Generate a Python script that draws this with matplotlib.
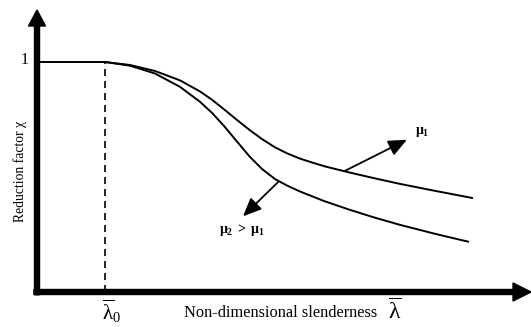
import matplotlib
matplotlib.use("Agg")
import matplotlib.pyplot as plt

plt.rcParams['mathtext.fontset'] = 'custom'
plt.rcParams['mathtext.rm'] = 'Liberation Serif'
plt.rcParams['mathtext.it'] = 'Liberation Serif:italic'
plt.rcParams['mathtext.bf'] = 'Liberation Serif:bold'
plt.rcParams['font.family'] = ['Liberation Serif', 'DejaVu Serif']

# ---- data ----
lambda0 = 0.2
plateau_x = [0.0, 0.2]
plateau_y = [1.0, 1.0]

mu1_x = [0.2, 0.2735, 0.347, 0.4206, 0.4794, 0.5147, 0.5529, 0.5882, 0.6265,
         0.6618, 0.700, 0.7353, 0.7735, 0.8088, 0.8471, 0.9206, 0.9941,
         1.0676, 1.1735, 1.2794]
mu1_y = [1.0, 0.987, 0.961, 0.920, 0.872, 0.836, 0.791, 0.748, 0.703,
         0.665, 0.629, 0.603, 0.580, 0.563, 0.546, 0.519, 0.494,
         0.470, 0.439, 0.409]

mu2_x = [0.2, 0.2735, 0.347, 0.4206, 0.4794, 0.5147, 0.5529, 0.5882, 0.6265,
         0.6618, 0.700, 0.7353, 0.7735, 0.8471, 0.9206, 0.9941, 1.0676,
         1.1706, 1.2676]
mu2_y = [1.0, 0.984, 0.950, 0.892, 0.827, 0.779, 0.717, 0.654, 0.587,
         0.535, 0.491, 0.463, 0.437, 0.394, 0.357, 0.323, 0.292,
         0.253, 0.219]

arrow_mu1 = [(0.906, 0.527), (1.088, 0.662)]   # tail, tip
arrow_mu2 = [(0.709, 0.478), (0.606, 0.329)]

ytick_vals = [1.0]
ytick_labels = ['1']

# ---- figure ----
fig = plt.figure(figsize=(5.31, 3.27), dpi=100)
ax = fig.add_axes([0, 0, 1, 1])
ax.set_xlim(-37 / 340, 494 / 340)
ax.set_ylim(-35 / 230, 292 / 230)
ax.axis('off')

# axes with arrows
ax.arrow(0, -0.012, 0, 1.238, width=5 / 340, head_width=17 / 340,
         head_length=16 / 230, length_includes_head=True, color='black',
         clip_on=False)
ax.arrow(-0.009, 0, 1.462, 0, width=5 / 230, head_width=18 / 230,
         head_length=18 / 340, length_includes_head=True, color='black',
         clip_on=False)

# plateau and curves
ax.plot(plateau_x, plateau_y, color='black', lw=1.4, solid_capstyle='butt')
ax.plot(mu1_x, mu1_y, color='black', lw=1.4)
ax.plot(mu2_x, mu2_y, color='black', lw=1.4)

# dashed line at lambda0
ax.plot([lambda0, lambda0], [0, 1.0], color='black', lw=1.2,
        linestyle=(0, (4.2, 3.0)))

# arrows to curves
for (tail, tip) in (arrow_mu1, arrow_mu2):
    ax.annotate('', xy=tip, xytext=tail,
                arrowprops=dict(arrowstyle='-|>,head_length=0.8,head_width=0.35',
                                mutation_scale=14, lw=1.3, color='black',
                                shrinkA=0, shrinkB=0))

# labels
for v, t in zip(ytick_vals, ytick_labels):
    ax.text(-0.026, v + 0.008, t, ha='right', va='center', fontsize=11.5)

ax.text(-0.05, 0.524, 'Reduction factor χ', rotation=90, ha='center',
        va='center', fontsize=9.8)
ax.text(0.718, -0.092, 'Non-dimensional slenderness', ha='center',
        va='center', fontsize=11.8)
ax.text(1.053, -0.085, r'$\overline{\mathrm{\lambda}}$', ha='center',
        va='center', fontsize=17)
ax.text(0.218, -0.085, r'$\overline{\mathrm{\lambda}}_{0}$', ha='center',
        va='center', fontsize=15)
ax.text(1.132, 0.697, r'$\mathbf{\mu}_{\mathbf{1}}$', ha='center',
        va='center', fontsize=10)
ax.text(0.603, 0.268, r'$\mathbf{\mu}_{\mathbf{2}}\ \mathbf{>}\ \mathbf{\mu}_{\mathbf{1}}$',
        ha='center', va='center', fontsize=10)

fig.savefig('out.png', dpi=100)
